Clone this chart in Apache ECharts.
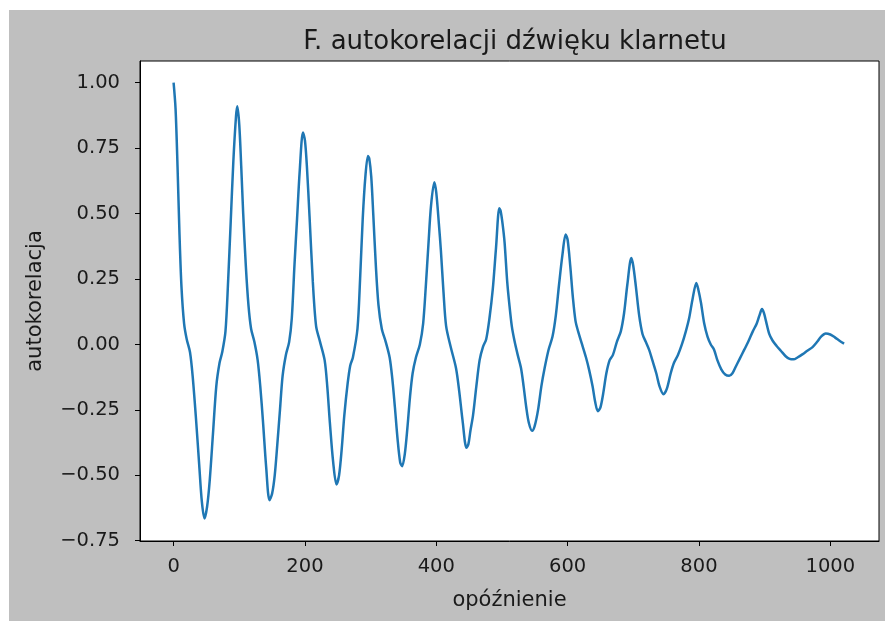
<!DOCTYPE html>
<html>
<head>
<meta charset="utf-8">
<script src="https://cdn.jsdelivr.net/npm/echarts@6/dist/echarts.min.js"></script>
<style>
html,body{margin:0;padding:0;background:#fff;width:885px;height:621px;overflow:hidden;}
#chart{position:absolute;left:9px;top:10px;width:876px;height:611px;}
</style>
</head>
<body>
<div id="chart"></div>
<script>
const titleText = 'F. autokorelacji dźwięku klarnetu';
const xName = 'opóźnienie';
const yName = 'autokorelacja';
const xTicks = [0, 200, 400, 600, 800, 1000];
const yTicks = [-0.75, -0.5, -0.25, 0, 0.25, 0.5, 0.75, 1.0];

const lags = [
  0,3,6,9,12,16,20,25,29,34,39,43,47,51,55,60,65,70,74,79,83,87,91,95,
  97,100,103,106,110,114,118,123,128,132,136,141,146,150,154,158,162,166,171,176,180,184,188,192,
  197,200,203,207,212,217,223,230,234,238,243,248,252,256,260,265,269,273,280,284,288,292,
  296,298,301,304,308,312,317,323,329,333,337,341,345,348,352,356,360,364,369,375,380,384,388,392,
  397,400,404,407,411,415,422,430,435,440,446,449,452,456,461,466,471,476,481,486,491,
  496,498,501,504,508,511,515,519,524,529,533,537,541,546,550,555,560,565,571,577,582,587,592,
  597,600,604,608,612,616,622,628,633,638,642,646,650,654,659,664,669,675,681,686,691,
  697,700,704,709,714,719,724,729,735,740,746,751,757,762,768,774,780,785,790,
  796,799,803,808,813,818,823,828,834,840,846,851,856,862,869,875,882,888,892,
  896,899,902,907,912,918,925,932,938,944,950,958,965,973,980,986,993,1000,1007,1014,1021
];
const acf = [
  1.00,0.90,0.68,0.42,0.22,0.08,0.02,-0.03,-0.12,-0.28,-0.46,-0.60,-0.665,-0.62,-0.52,-0.34,-0.16,-0.07,-0.03,0.05,0.24,0.47,0.70,0.87,
  0.91,0.84,0.68,0.50,0.30,0.15,0.06,0.01,-0.06,-0.16,-0.29,-0.47,-0.595,-0.57,-0.50,-0.38,-0.25,-0.12,-0.04,0.01,0.10,0.30,0.48,0.66,
  0.81,0.78,0.68,0.49,0.24,0.07,0.01,-0.06,-0.16,-0.30,-0.45,-0.535,-0.50,-0.40,-0.27,-0.15,-0.08,-0.05,0.06,0.25,0.48,0.64,
  0.72,0.71,0.64,0.50,0.30,0.15,0.06,0.01,-0.05,-0.13,-0.24,-0.36,-0.45,-0.465,-0.42,-0.32,-0.20,-0.11,-0.05,0.00,0.08,0.22,0.38,0.53,
  0.62,0.58,0.46,0.36,0.20,0.07,-0.01,-0.09,-0.18,-0.29,-0.395,-0.38,-0.33,-0.27,-0.16,-0.06,-0.01,0.02,0.10,0.21,0.37,
  0.52,0.51,0.46,0.39,0.24,0.16,0.07,0.015,-0.04,-0.09,-0.16,-0.24,-0.30,-0.33,-0.31,-0.25,-0.16,-0.09,-0.02,0.03,0.11,0.23,0.34,
  0.42,0.40,0.30,0.18,0.09,0.05,0.00,-0.05,-0.10,-0.16,-0.22,-0.255,-0.24,-0.19,-0.11,-0.06,-0.04,0.01,0.05,0.12,0.23,
  0.33,0.30,0.22,0.11,0.04,0.01,-0.02,-0.06,-0.11,-0.16,-0.19,-0.17,-0.11,-0.07,-0.04,0.00,0.05,0.10,0.17,
  0.235,0.21,0.16,0.08,0.03,0.00,-0.02,-0.06,-0.095,-0.115,-0.12,-0.11,-0.085,-0.055,-0.02,0.01,0.05,0.08,0.11,
  0.135,0.12,0.09,0.04,0.015,-0.005,-0.025,-0.045,-0.055,-0.057,-0.05,-0.037,-0.024,-0.01,0.01,0.03,0.042,0.038,0.027,0.014,0.003
];

const seriesData = lags.map((x, i) => [x, acf[i]]);
const fontFamily = 'DejaVu Sans';
const textColor = '#1a1a1a';

const chart = echarts.init(document.getElementById('chart'), null, {renderer: 'canvas'});
chart.setOption({
  backgroundColor: '#bfbfbf',
  animation: false,
  title: {
    text: titleText,
    left: 501,
    top: 14,
    textAlign: 'center',
    textStyle: {fontFamily: fontFamily, fontSize: 26, fontWeight: 'normal', color: textColor}
  },
  grid: {
    left: 131, right: 6, top: 51, bottom: 80,
    show: true, backgroundColor: '#ffffff', borderColor: '#000000', borderWidth: 1
  },
  xAxis: {
    type: 'value',
    min: -51.15, max: 1074.15,
    name: xName,
    nameLocation: 'middle',
    nameGap: 49,
    nameTextStyle: {fontFamily: fontFamily, fontSize: 21, color: textColor},
    axisLine: {show: true, onZero: false, lineStyle: {color: '#000', width: 1}},
    axisTick: {show: true, inside: false, length: 5, customValues: xTicks, lineStyle: {color: '#000', width: 1}},
    axisLabel: {
      customValues: xTicks, margin: 16, fontFamily: fontFamily, fontSize: 19.5, color: textColor,
      formatter: v => String(Math.round(v))
    },
    splitLine: {show: false}
  },
  yAxis: {
    type: 'value',
    min: -0.751, max: 1.083,
    name: yName,
    nameLocation: 'middle',
    nameRotate: 90,
    nameGap: 94,
    nameTextStyle: {fontFamily: fontFamily, fontSize: 21, color: textColor},
    axisLine: {show: true, onZero: false, lineStyle: {color: '#000', width: 1}},
    axisTick: {show: true, inside: false, length: 5, customValues: yTicks, lineStyle: {color: '#000', width: 1}},
    axisLabel: {
      customValues: yTicks, margin: 20, fontFamily: fontFamily, fontSize: 19.5, color: textColor,
      formatter: v => (v < 0 ? '\u2212' : '') + Math.abs(v).toFixed(2)
    },
    splitLine: {show: false}
  },
  series: [{
    type: 'line',
    data: seriesData,
    showSymbol: false,
    smooth: 0.3,
    lineStyle: {color: '#1f77b4', width: 2.5},
    itemStyle: {color: '#1f77b4'}
  }]
});
</script>
</body>
</html>
